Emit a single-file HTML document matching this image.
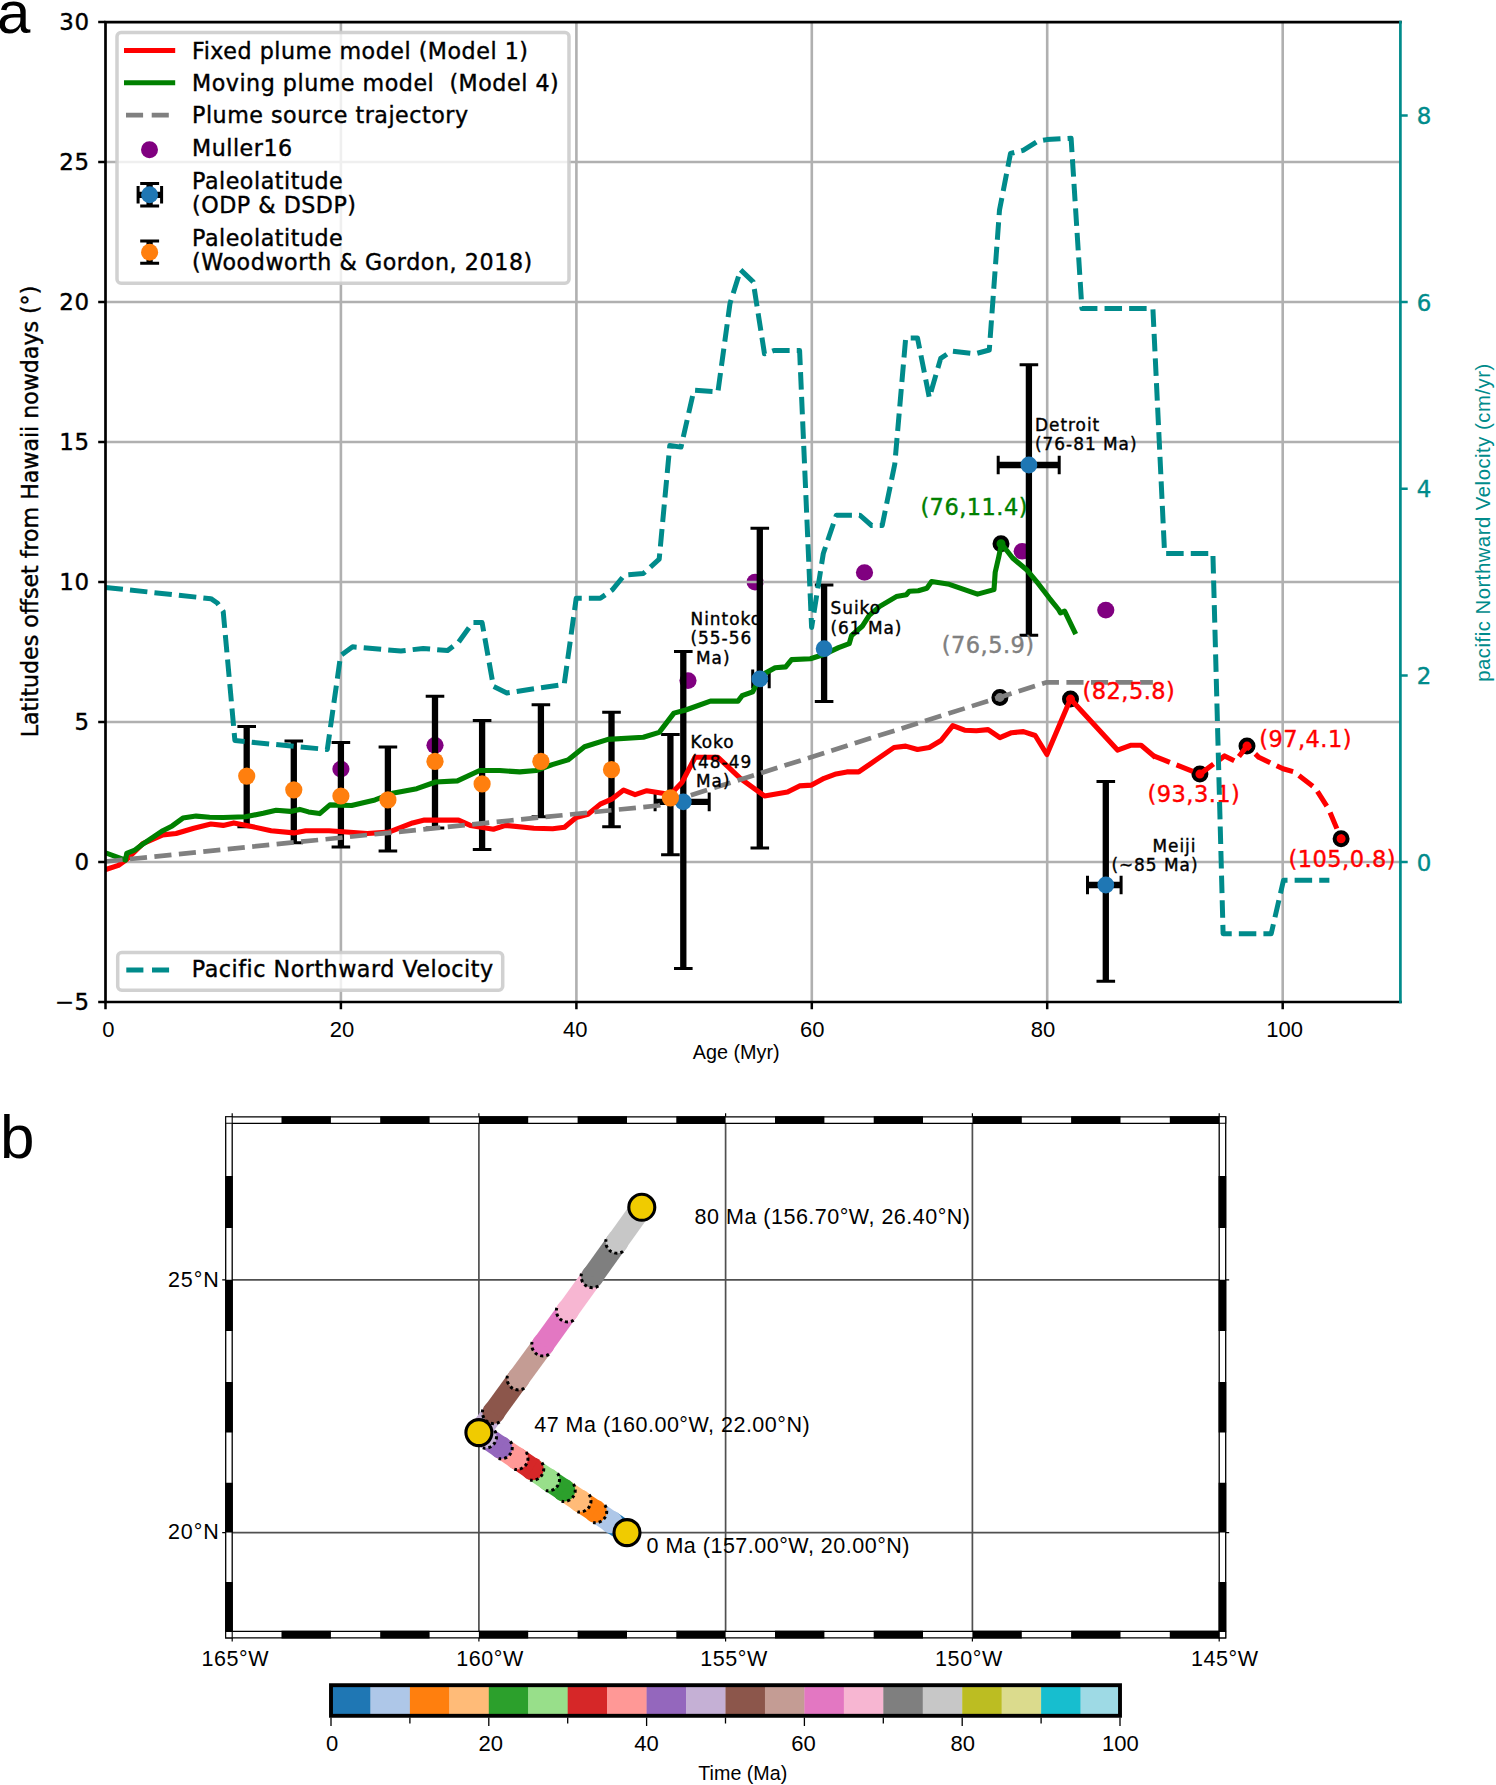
<!DOCTYPE html>
<html lang="en"><head><meta charset="utf-8"><title>Figure</title>
<style>html,body{margin:0;padding:0;background:#fff}svg{display:block}</style></head>
<body>
<svg width="1496" height="1785" viewBox="0 0 1496 1785">
<rect width="1496" height="1785" fill="#fff"/>
<ellipse cx="340.9" cy="769.1" rx="8.6" ry="8.3" fill="#800080"/>
<ellipse cx="435.0" cy="745.3" rx="8.6" ry="8.3" fill="#800080"/>
<ellipse cx="688.0" cy="680.6" rx="8.6" ry="8.3" fill="#800080"/>
<ellipse cx="755.1" cy="582.1" rx="8.6" ry="8.3" fill="#800080"/>
<ellipse cx="864.5" cy="572.5" rx="8.6" ry="8.3" fill="#800080"/>
<ellipse cx="1022.2" cy="551.3" rx="8.6" ry="8.3" fill="#800080"/>
<ellipse cx="1105.8" cy="610.1" rx="8.6" ry="8.3" fill="#800080"/>
<path d="M340.9 22.1V1002.0M576.4 22.1V1002.0M811.8 22.1V1002.0M1047.2 22.1V1002.0M1282.7 22.1V1002.0M105.5 862.0H1400.4M105.5 722.0H1400.4M105.5 582.0H1400.4M105.5 442.0H1400.4M105.5 302.0H1400.4M105.5 162.0H1400.4" stroke="#b0b0b0" stroke-width="2.6" fill="none"/>
<clipPath id="ca"><rect x="105.5" y="22.1" width="1294.9" height="980.0"/></clipPath>
<g clip-path="url(#ca)" fill="none" stroke-linejoin="round">
<circle cx="1001.0" cy="543.7" r="6.5" fill="#008000" stroke="#000" stroke-width="4"/>
<circle cx="999.9" cy="697.4" r="6.5" fill="#808080" stroke="#000" stroke-width="4"/>
<circle cx="1070.5" cy="699.1" r="6.5" fill="#f00" stroke="#000" stroke-width="4"/>
<circle cx="1199.9" cy="774.1" r="6.5" fill="#f00" stroke="#000" stroke-width="4"/>
<circle cx="1247.0" cy="746.1" r="6.5" fill="#f00" stroke="#000" stroke-width="4"/>
<circle cx="1341.1" cy="838.8" r="6.5" fill="#f00" stroke="#000" stroke-width="4"/>
<path d="M683.3 651.5V968.5M655.1 801.9H709.2M759.8 528.3V848.1M752.7 678.9H769.2M824.1 585.1V701.6M1028.9 364.8V635.3M998.2 465.0H1059.2M1105.8 781.4V981.3M1087.5 885.0H1121.1M246.7 726.5V826.8M293.8 741.1V842.7M340.9 742.5V846.9M387.9 747.0V850.9M435.0 696.3V827.9M482.1 720.4V849.5M540.9 704.7V816.7M611.5 712.3V826.8M670.4 734.4V854.8" stroke="#000" stroke-width="6.3"/>
<path d="M674.0 651.5h18.6M674.0 968.5h18.6M655.1 792.6v18.6M709.2 792.6v18.6M750.5 528.3h18.6M750.5 848.1h18.6M752.7 669.6v18.6M769.2 669.6v18.6M814.8 585.1h18.6M814.8 701.6h18.6M1019.6 364.8h18.6M1019.6 635.3h18.6M998.2 455.7v18.6M1059.2 455.7v18.6M1096.5 781.4h18.6M1096.5 981.3h18.6M1087.5 875.7v18.6M1121.1 875.7v18.6M237.4 726.5h18.6M237.4 826.8h18.6M284.5 741.1h18.6M284.5 842.7h18.6M331.6 742.5h18.6M331.6 846.9h18.6M378.6 747.0h18.6M378.6 850.9h18.6M425.7 696.3h18.6M425.7 827.9h18.6M472.8 720.4h18.6M472.8 849.5h18.6M531.6 704.7h18.6M531.6 816.7h18.6M602.2 712.3h18.6M602.2 826.8h18.6M661.1 734.4h18.6M661.1 854.8h18.6" stroke="#000" stroke-width="3.0"/>
<polyline points="105.5,869.6 118.4,865.4 126.7,859.5 142.8,843.6 162.8,834.9 176.1,833.5 193.8,828.2 210.9,824.0 223.2,825.4 233.8,822.9 246.7,825.4 271.1,830.7 293.8,832.9 305.6,830.7 329.1,830.7 367.3,833.5 388.8,832.1 412.6,822.9 424.4,820.1 458.5,820.1 470.3,825.4 493.4,829.3 505.6,825.4 533.9,828.2 552.7,828.7 564.5,827.3 576.2,817.5 588.0,814.2 600.3,804.1 612.3,798.8 623.6,790.1 635.1,794.6 646.8,790.7 670.4,794.6 681.9,782.5 695.1,757.3 718.0,757.3 740.6,778.6 764.5,796.0 787.5,792.1 799.5,785.9 811.6,785.1 824.1,778.3 836.1,773.9 846.9,771.9 858.7,771.9 870.4,763.8 894.0,747.5 905.7,746.1 917.5,749.5 929.3,747.5 941.0,740.5 952.8,725.7 964.6,730.2 976.3,730.7 988.1,729.6 999.9,737.7 1011.6,732.7 1023.4,731.6 1035.2,735.5 1046.9,754.5 1070.5,699.1 1117.5,750.1 1130.5,745.3 1141.1,745.3 1153.6,755.9" stroke="#f00" stroke-width="5.1" stroke-linecap="square"/>
<polyline points="1153.6,755.9 1199.9,774.1 1224.6,755.9 1235.2,761.3 1247.0,746.1 1258.8,757.3 1283.0,768.8 1294.1,771.9 1315.3,788.1 1328.8,809.4 1341.1,838.8" stroke="#f00" stroke-width="5.1" stroke-dasharray="17.5 7.1"/>
<polyline points="105.5,852.8 125.5,860.1 126.7,853.4 134.9,850.0 142.8,844.1 162.8,830.7 172.2,825.9 182.9,818.1 196.1,816.1 209.6,817.3 223.2,817.5 245.5,816.7 263.2,813.3 276.1,810.3 290.3,811.4 299.7,809.4 308.5,811.9 319.7,813.6 329.9,804.9 351.5,805.5 375.0,799.9 393.8,792.9 416.8,788.7 435.6,782.0 457.4,780.9 479.7,770.5 499.7,770.5 519.7,771.9 536.2,770.5 552.2,764.6 568.0,759.9 584.5,746.7 608.0,739.4 643.3,737.2 659.2,732.4 673.9,713.1 685.7,710.0 710.4,701.1 738.0,701.1 742.1,695.7 752.7,691.8 761.0,675.6 775.1,667.7 785.7,666.9 791.6,659.6 810.4,658.8 824.5,654.3 838.6,647.6 849.2,643.7 851.6,635.5 862.2,626.3 869.2,615.4 879.8,606.4 896.3,596.6 906.3,594.7 909.3,591.3 918.3,590.7 926.9,588.2 931.6,581.5 949.3,584.3 977.5,594.1 994.0,589.6 995.2,572.3 998.7,557.1 1001.5,543.7 1012.6,558.0 1027.2,570.3 1038.3,583.7 1049.5,598.3 1058.5,609.5 1060.5,612.9 1064.6,611.2 1074.6,631.9" stroke="#008000" stroke-width="5.1" stroke-linecap="square"/>
<polyline points="105.5,861.5 658.6,805.5 1046.9,682.3 1152.9,682.3" stroke="#808080" stroke-width="4.7" stroke-dasharray="17.14 7.43"/>
<circle cx="683.3" cy="801.9" r="8.4" fill="#1f77b4"/>
<circle cx="759.8" cy="678.9" r="8.4" fill="#1f77b4"/>
<circle cx="824.1" cy="648.7" r="8.4" fill="#1f77b4"/>
<circle cx="1028.9" cy="465.0" r="8.4" fill="#1f77b4"/>
<circle cx="1105.8" cy="885.0" r="8.4" fill="#1f77b4"/>
<circle cx="246.7" cy="776.1" r="8.6" fill="#ff7f0e"/>
<circle cx="293.8" cy="789.8" r="8.6" fill="#ff7f0e"/>
<circle cx="340.9" cy="796.0" r="8.6" fill="#ff7f0e"/>
<circle cx="387.9" cy="799.9" r="8.6" fill="#ff7f0e"/>
<circle cx="435.0" cy="761.3" r="8.6" fill="#ff7f0e"/>
<circle cx="482.1" cy="783.9" r="8.6" fill="#ff7f0e"/>
<circle cx="540.9" cy="761.3" r="8.6" fill="#ff7f0e"/>
<circle cx="611.5" cy="769.7" r="8.6" fill="#ff7f0e"/>
<circle cx="670.4" cy="797.9" r="8.6" fill="#ff7f0e"/>
</g>
<text x="690.5" y="624.5" style="font-family:'DejaVu Sans',sans-serif;font-size:16.90px;letter-spacing:1.00px" fill="#000" text-anchor="start" stroke="#000" stroke-width="0.4">Nintoko</text>
<text x="690.5" y="644.2" style="font-family:'DejaVu Sans',sans-serif;font-size:16.90px;letter-spacing:1.00px" fill="#000" text-anchor="start" stroke="#000" stroke-width="0.4">(55-56</text>
<text x="689.6" y="663.8" style="font-family:'DejaVu Sans',sans-serif;font-size:16.90px;letter-spacing:1.00px" fill="#000" text-anchor="start" stroke="#000" stroke-width="0.4">&#160;Ma)</text>
<text x="690.5" y="748.0" style="font-family:'DejaVu Sans',sans-serif;font-size:16.90px;letter-spacing:1.00px" fill="#000" text-anchor="start" stroke="#000" stroke-width="0.4">Koko</text>
<text x="690.5" y="767.9" style="font-family:'DejaVu Sans',sans-serif;font-size:16.90px;letter-spacing:1.00px" fill="#000" text-anchor="start" stroke="#000" stroke-width="0.4">(48-49</text>
<text x="689.6" y="787.3" style="font-family:'DejaVu Sans',sans-serif;font-size:16.90px;letter-spacing:1.00px" fill="#000" text-anchor="start" stroke="#000" stroke-width="0.4">&#160;Ma)</text>
<text x="830.5" y="614.0" style="font-family:'DejaVu Sans',sans-serif;font-size:16.90px;letter-spacing:1.00px" fill="#000" text-anchor="start" stroke="#000" stroke-width="0.4">Suiko</text>
<text x="830.5" y="634.0" style="font-family:'DejaVu Sans',sans-serif;font-size:16.90px;letter-spacing:1.00px" fill="#000" text-anchor="start" stroke="#000" stroke-width="0.4">(61 Ma)</text>
<text x="1035.0" y="431.0" style="font-family:'DejaVu Sans',sans-serif;font-size:16.90px;letter-spacing:1.00px" fill="#000" text-anchor="start" stroke="#000" stroke-width="0.4">Detroit</text>
<text x="1035.0" y="450.3" style="font-family:'DejaVu Sans',sans-serif;font-size:16.90px;letter-spacing:1.00px" fill="#000" text-anchor="start" stroke="#000" stroke-width="0.4">(76-81 Ma)</text>
<text x="1196.5" y="851.6" style="font-family:'DejaVu Sans',sans-serif;font-size:16.90px;letter-spacing:1.00px" fill="#000" text-anchor="end" stroke="#000" stroke-width="0.4">Meiji</text>
<text x="1198.5" y="870.9" style="font-family:'DejaVu Sans',sans-serif;font-size:16.90px;letter-spacing:1.00px" fill="#000" text-anchor="end" stroke="#000" stroke-width="0.4">(~85 Ma)</text>
<text x="920.4" y="515.2" style="font-family:'DejaVu Sans',sans-serif;font-size:22.50px;letter-spacing:0.45px" fill="#008000" text-anchor="start" stroke="#008000" stroke-width="0.4">(76,11.4)</text>
<text x="941.8" y="653.4" style="font-family:'DejaVu Sans',sans-serif;font-size:22.50px;letter-spacing:0.45px" fill="#808080" text-anchor="start" stroke="#808080" stroke-width="0.4">(76,5.9)</text>
<text x="1082.6" y="699.0" style="font-family:'DejaVu Sans',sans-serif;font-size:22.50px;letter-spacing:0.45px" fill="#f00" text-anchor="start" stroke="#f00" stroke-width="0.4">(82,5.8)</text>
<text x="1259.2" y="746.5" style="font-family:'DejaVu Sans',sans-serif;font-size:22.50px;letter-spacing:0.45px" fill="#f00" text-anchor="start" stroke="#f00" stroke-width="0.4">(97,4.1)</text>
<text x="1147.6" y="802.0" style="font-family:'DejaVu Sans',sans-serif;font-size:22.50px;letter-spacing:0.45px" fill="#f00" text-anchor="start" stroke="#f00" stroke-width="0.4">(93,3.1)</text>
<text x="1288.6" y="866.8" style="font-family:'DejaVu Sans',sans-serif;font-size:22.50px;letter-spacing:0.45px" fill="#f00" text-anchor="start" stroke="#f00" stroke-width="0.4">(105,0.8)</text>
<polyline clip-path="url(#ca)" points="105.5,587.4 210.9,598.7 217.3,603.0 223.2,611.4 234.9,740.6 327.3,749.5 340.6,655.6 352.6,646.8 400.9,651.0 423.2,648.4 447.6,650.6 458.5,642.2 472.7,622.6 482.1,622.6 493.4,686.4 506.8,693.0 533.9,688.8 564.2,684.4 576.2,598.3 600.3,598.3 612.3,589.9 624.5,575.0 643.3,573.5 659.2,559.1 669.8,445.5 681.0,447.1 693.9,390.2 717.9,392.0 730.0,303.4 740.6,269.8 753.2,281.9 764.5,353.8 773.9,350.5 799.6,350.5 811.6,627.5 823.3,553.5 836.3,515.2 859.8,515.2 871.6,525.5 882.2,525.5 894.8,463.9 905.7,337.9 917.5,337.9 929.3,397.6 940.7,358.4 951.6,351.0 975.2,353.8 989.3,350.0 999.5,210.0 1010.5,153.5 1023.1,150.3 1037.5,141.3 1046.9,139.6 1071.1,138.2 1081.9,308.5 1152.9,308.5 1164.6,553.5 1212.9,553.5 1223.1,933.7 1271.2,933.7 1283.5,880.2 1329.4,880.2" fill="none" stroke-linejoin="round" stroke="#008b8b" stroke-width="5.0" stroke-dasharray="17.5 7.1"/>
<path d="M105.5 22.1H1400.4M105.5 1002.0H1400.4M105.5 22.1V1002.0" stroke="#000" stroke-width="2.7" fill="none" stroke-linecap="square"/>
<path d="M1400.4 22.1V1002.0" stroke="#008b8b" stroke-width="2.7" fill="none" stroke-linecap="square"/>
<path d="M105.5 1002.0v7.3M340.9 1002.0v7.3M576.4 1002.0v7.3M811.8 1002.0v7.3M1047.2 1002.0v7.3M1282.7 1002.0v7.3M105.5 1002.0h-7.3M105.5 862.0h-7.3M105.5 722.0h-7.3M105.5 582.0h-7.3M105.5 442.0h-7.3M105.5 302.0h-7.3M105.5 162.0h-7.3M105.5 22.0h-7.3" stroke="#000" stroke-width="2.5" fill="none"/>
<path d="M1400.4 862.0h7.3M1400.4 675.4h7.3M1400.4 488.7h7.3M1400.4 302.0h7.3M1400.4 115.4h7.3" stroke="#008b8b" stroke-width="2.5" fill="none"/>
<text x="89.5" y="1010.3" style="font-family:'DejaVu Sans',sans-serif;font-size:22.90px;letter-spacing:0.50px" fill="#000" text-anchor="end" stroke="#000" stroke-width="0.4">&#8722;5</text>
<text x="89.5" y="870.3" style="font-family:'DejaVu Sans',sans-serif;font-size:22.90px;letter-spacing:0.50px" fill="#000" text-anchor="end" stroke="#000" stroke-width="0.4">0</text>
<text x="89.5" y="730.3" style="font-family:'DejaVu Sans',sans-serif;font-size:22.90px;letter-spacing:0.50px" fill="#000" text-anchor="end" stroke="#000" stroke-width="0.4">5</text>
<text x="89.5" y="590.3" style="font-family:'DejaVu Sans',sans-serif;font-size:22.90px;letter-spacing:0.50px" fill="#000" text-anchor="end" stroke="#000" stroke-width="0.4">10</text>
<text x="89.5" y="450.3" style="font-family:'DejaVu Sans',sans-serif;font-size:22.90px;letter-spacing:0.50px" fill="#000" text-anchor="end" stroke="#000" stroke-width="0.4">15</text>
<text x="89.5" y="310.3" style="font-family:'DejaVu Sans',sans-serif;font-size:22.90px;letter-spacing:0.50px" fill="#000" text-anchor="end" stroke="#000" stroke-width="0.4">20</text>
<text x="89.5" y="170.3" style="font-family:'DejaVu Sans',sans-serif;font-size:22.90px;letter-spacing:0.50px" fill="#000" text-anchor="end" stroke="#000" stroke-width="0.4">25</text>
<text x="89.5" y="30.3" style="font-family:'DejaVu Sans',sans-serif;font-size:22.90px;letter-spacing:0.50px" fill="#000" text-anchor="end" stroke="#000" stroke-width="0.4">30</text>
<text x="1416.7" y="870.6" style="font-family:'DejaVu Sans',sans-serif;font-size:22.90px;letter-spacing:0.50px" fill="#008b8b" text-anchor="start" stroke="#008b8b" stroke-width="0.4">0</text>
<text x="1416.7" y="684.0" style="font-family:'DejaVu Sans',sans-serif;font-size:22.90px;letter-spacing:0.50px" fill="#008b8b" text-anchor="start" stroke="#008b8b" stroke-width="0.4">2</text>
<text x="1416.7" y="497.3" style="font-family:'DejaVu Sans',sans-serif;font-size:22.90px;letter-spacing:0.50px" fill="#008b8b" text-anchor="start" stroke="#008b8b" stroke-width="0.4">4</text>
<text x="1416.7" y="310.6" style="font-family:'DejaVu Sans',sans-serif;font-size:22.90px;letter-spacing:0.50px" fill="#008b8b" text-anchor="start" stroke="#008b8b" stroke-width="0.4">6</text>
<text x="1416.7" y="124.0" style="font-family:'DejaVu Sans',sans-serif;font-size:22.90px;letter-spacing:0.50px" fill="#008b8b" text-anchor="start" stroke="#008b8b" stroke-width="0.4">8</text>
<text x="108.3" y="1037.4" style="font-family:'Liberation Sans',sans-serif;font-size:22.00px" fill="#000" text-anchor="middle">0</text>
<text x="342.1" y="1037.4" style="font-family:'Liberation Sans',sans-serif;font-size:22.00px" fill="#000" text-anchor="middle">20</text>
<text x="575.2" y="1037.4" style="font-family:'Liberation Sans',sans-serif;font-size:22.00px" fill="#000" text-anchor="middle">40</text>
<text x="812.2" y="1037.4" style="font-family:'Liberation Sans',sans-serif;font-size:22.00px" fill="#000" text-anchor="middle">60</text>
<text x="1043.0" y="1037.4" style="font-family:'Liberation Sans',sans-serif;font-size:22.00px" fill="#000" text-anchor="middle">80</text>
<text x="1284.6" y="1037.4" style="font-family:'Liberation Sans',sans-serif;font-size:22.00px" fill="#000" text-anchor="middle">100</text>
<text x="736.2" y="1058.6" style="font-family:'Liberation Sans',sans-serif;font-size:19.80px" fill="#000" text-anchor="middle">Age (Myr)</text>
<text transform="translate(37.5 511.5) rotate(-90)" style="font-family:'DejaVu Sans',sans-serif;font-size:22.1px" stroke="#000" stroke-width="0.4" text-anchor="middle">Latitudes offset from Hawaii nowdays (°)</text>
<text transform="translate(1490.3 522.5) rotate(-90)" style="font-family:'Liberation Sans',sans-serif;font-size:20.3px;letter-spacing:0.52px" fill="#008b8b" text-anchor="middle">pacific Northward Velocity (cm/yr)</text>
<rect x="117" y="32.6" width="452" height="250.6" rx="4" fill="#fff" fill-opacity="0.8" stroke="#ccc" stroke-opacity="0.9" stroke-width="3.5"/>
<path d="M124 50.5H175.2" stroke="#f00" stroke-width="5.1"/>
<path d="M124 82.8H175.2" stroke="#008000" stroke-width="5.1"/>
<path d="M126 115.2H168.8" stroke="#808080" stroke-width="4.7" stroke-dasharray="17.1 8.6"/>
<circle cx="149.5" cy="149.7" r="8.5" fill="#800080"/>
<path d="M138.1 194.8H161.6M149.6 183.6V206.0" stroke="#000" stroke-width="6.3"/>
<path d="M138.1 186v17.6M161.6 186v17.6M140.2 183.6h18.9M140.2 206.0h18.9" stroke="#000" stroke-width="3.0"/>
<circle cx="149.6" cy="194.8" r="8.5" fill="#1f77b4"/>
<path d="M149.6 241.1V263.2" stroke="#000" stroke-width="6.3"/>
<path d="M140.2 241.1h18.9M140.2 263.2h18.9" stroke="#000" stroke-width="3.0"/>
<circle cx="149.6" cy="252.2" r="8.5" fill="#ff7f0e"/>
<text x="192.0" y="58.6" style="font-family:'DejaVu Sans',sans-serif;font-size:22.20px;letter-spacing:0.52px" fill="#000" text-anchor="start" stroke="#000" stroke-width="0.4">Fixed plume model (Model 1)</text>
<text x="192.0" y="91.1" style="font-family:'DejaVu Sans',sans-serif;font-size:22.20px;letter-spacing:0.52px" fill="#000" text-anchor="start" stroke="#000" stroke-width="0.4">Moving plume model&#160; (Model 4)</text>
<text x="192.0" y="123.2" style="font-family:'DejaVu Sans',sans-serif;font-size:22.20px;letter-spacing:0.52px" fill="#000" text-anchor="start" stroke="#000" stroke-width="0.4">Plume source trajectory</text>
<text x="192.0" y="155.9" style="font-family:'DejaVu Sans',sans-serif;font-size:22.20px;letter-spacing:0.52px" fill="#000" text-anchor="start" stroke="#000" stroke-width="0.4">Muller16</text>
<text x="192.0" y="188.5" style="font-family:'DejaVu Sans',sans-serif;font-size:22.20px;letter-spacing:0.52px" fill="#000" text-anchor="start" stroke="#000" stroke-width="0.4">Paleolatitude</text>
<text x="192.0" y="212.6" style="font-family:'DejaVu Sans',sans-serif;font-size:22.20px;letter-spacing:0.52px" fill="#000" text-anchor="start" stroke="#000" stroke-width="0.4">(ODP &amp; DSDP)</text>
<text x="192.0" y="245.5" style="font-family:'DejaVu Sans',sans-serif;font-size:22.20px;letter-spacing:0.52px" fill="#000" text-anchor="start" stroke="#000" stroke-width="0.4">Paleolatitude</text>
<text x="192.0" y="270.0" style="font-family:'DejaVu Sans',sans-serif;font-size:22.20px;letter-spacing:0.57px" fill="#000" text-anchor="start" stroke="#000" stroke-width="0.4">(Woodworth &amp; Gordon, 2018)</text>
<rect x="117.7" y="952.5" width="385" height="37.8" rx="4" fill="#fff" fill-opacity="0.8" stroke="#ccc" stroke-opacity="0.9" stroke-width="3.5"/>
<path d="M126.3 970H169.1" stroke="#008b8b" stroke-width="5" stroke-dasharray="17.1 8.6"/>
<text x="191.8" y="977.3" style="font-family:'DejaVu Sans',sans-serif;font-size:22.20px;letter-spacing:0.52px" fill="#000" text-anchor="start" stroke="#000" stroke-width="0.4">Pacific Northward Velocity</text>
<text x="-3.0" y="32.8" style="font-family:'Liberation Sans',sans-serif;font-size:60.00px" fill="#000" text-anchor="start">a</text>
<text x="0.0" y="1158.0" style="font-family:'Liberation Sans',sans-serif;font-size:62.00px" fill="#000" text-anchor="start">b</text>
<path d="M478.9 1123.3V1631.4M725.6 1123.3V1631.4M972.4 1123.3V1631.4M232.2 1532.6H1219.2M232.2 1279.8H1219.2" stroke="#505050" stroke-width="1.7" fill="none"/>
<circle cx="627.0" cy="1532.6" r="11.3" fill="#1f77b4"/>
<path d="M627.0 1532.6L611.2 1522.0" stroke="#1f77b4" stroke-width="22.0" fill="none"/>
<circle cx="611.2" cy="1522.0" r="11.3" fill="#aec7e8"/>
<path d="M611.2 1522.0L595.5 1511.4" stroke="#aec7e8" stroke-width="22.0" fill="none"/>
<circle cx="595.5" cy="1511.4" r="11.3" fill="#ff7f0e"/>
<path d="M604.81 1505.10A11.3 11.3 0 0 1 593.12 1522.48" fill="none" stroke="#000" stroke-width="3" stroke-dasharray="0 0.1 3 2.92 3 2.92 3 2.92 3 2.92 3 9"/>
<path d="M595.5 1511.4L579.7 1500.8" stroke="#ff7f0e" stroke-width="22.0" fill="none"/>
<circle cx="579.7" cy="1500.8" r="11.3" fill="#ffbb78"/>
<path d="M589.06 1494.49A11.3 11.3 0 0 1 577.36 1511.87" fill="none" stroke="#000" stroke-width="3" stroke-dasharray="0 0.1 3 2.92 3 2.92 3 2.92 3 2.92 3 9"/>
<path d="M579.7 1500.8L563.9 1490.2" stroke="#ffbb78" stroke-width="22.0" fill="none"/>
<circle cx="563.9" cy="1490.2" r="11.3" fill="#2ca02c"/>
<path d="M573.32 1483.88A11.3 11.3 0 0 1 561.60 1501.25" fill="none" stroke="#000" stroke-width="3" stroke-dasharray="0 0.1 3 2.92 3 2.92 3 2.92 3 2.92 3 9"/>
<path d="M563.9 1490.2L548.2 1479.6" stroke="#2ca02c" stroke-width="22.0" fill="none"/>
<circle cx="548.2" cy="1479.6" r="11.3" fill="#98df8a"/>
<path d="M557.57 1473.25A11.3 11.3 0 0 1 545.84 1490.61" fill="none" stroke="#000" stroke-width="3" stroke-dasharray="0 0.1 3 2.92 3 2.92 3 2.92 3 2.92 3 9"/>
<path d="M548.2 1479.6L532.4 1468.9" stroke="#98df8a" stroke-width="22.0" fill="none"/>
<circle cx="532.4" cy="1468.9" r="11.3" fill="#d62728"/>
<path d="M541.83 1462.60A11.3 11.3 0 0 1 530.09 1479.96" fill="none" stroke="#000" stroke-width="3" stroke-dasharray="0 0.1 3 2.92 3 2.92 3 2.92 3 2.92 3 9"/>
<path d="M532.4 1468.9L516.7 1458.2" stroke="#d62728" stroke-width="22.0" fill="none"/>
<circle cx="516.7" cy="1458.2" r="11.3" fill="#ff9896"/>
<path d="M526.08 1451.94A11.3 11.3 0 0 1 514.33 1469.29" fill="none" stroke="#000" stroke-width="3" stroke-dasharray="0 0.1 3 2.92 3 2.92 3 2.92 3 2.92 3 9"/>
<path d="M516.7 1458.2L501.0 1447.6" stroke="#ff9896" stroke-width="22.0" fill="none"/>
<circle cx="501.0" cy="1447.6" r="11.3" fill="#9467bd"/>
<path d="M510.33 1441.26A11.3 11.3 0 0 1 498.57 1458.60" fill="none" stroke="#000" stroke-width="3" stroke-dasharray="0 0.1 3 2.92 3 2.92 3 2.92 3 2.92 3 9"/>
<path d="M501.0 1447.6L485.2 1436.9" stroke="#9467bd" stroke-width="22.0" fill="none"/>
<circle cx="485.2" cy="1436.9" r="11.3" fill="#c5b0d5"/>
<path d="M494.59 1430.57A11.3 11.3 0 0 1 482.81 1447.90" fill="none" stroke="#000" stroke-width="3" stroke-dasharray="0 0.1 3 2.92 3 2.92 3 2.92 3 2.92 3 9"/>
<path d="M485.2 1436.9L478.9 1432.6" stroke="#c5b0d5" stroke-width="22.0" fill="none"/>
<circle cx="478.9" cy="1432.6" r="11.3" fill="#c5b0d5"/>
<path d="M488.29 1426.29A11.3 11.3 0 0 1 476.51 1443.61" fill="none" stroke="#000" stroke-width="3" stroke-dasharray="0 0.1 3 2.92 3 2.92 3 2.92 3 2.92 3 9"/>
<path d="M478.9 1432.6L493.7 1412.4" stroke="#c5b0d5" stroke-width="22.0" fill="none"/>
<circle cx="493.7" cy="1412.4" r="11.3" fill="#8c564b"/>
<path d="M499.65 1422.01A11.3 11.3 0 0 1 482.75 1409.61" fill="none" stroke="#000" stroke-width="3" stroke-dasharray="0 0.1 3 2.92 3 2.92 3 2.92 3 2.92 3 9"/>
<path d="M493.7 1412.4L518.4 1378.6" stroke="#8c564b" stroke-width="22.0" fill="none"/>
<circle cx="518.4" cy="1378.6" r="11.3" fill="#c49c94"/>
<path d="M524.34 1388.25A11.3 11.3 0 0 1 507.42 1375.88" fill="none" stroke="#000" stroke-width="3" stroke-dasharray="0 0.1 3 2.92 3 2.92 3 2.92 3 2.92 3 9"/>
<path d="M518.4 1378.6L543.1 1344.7" stroke="#c49c94" stroke-width="22.0" fill="none"/>
<circle cx="543.1" cy="1344.7" r="11.3" fill="#e377c2"/>
<path d="M549.04 1354.32A11.3 11.3 0 0 1 532.09 1341.99" fill="none" stroke="#000" stroke-width="3" stroke-dasharray="0 0.1 3 2.92 3 2.92 3 2.92 3 2.92 3 9"/>
<path d="M543.1 1344.7L567.7 1310.6" stroke="#e377c2" stroke-width="22.0" fill="none"/>
<circle cx="567.7" cy="1310.6" r="11.3" fill="#f7b6d2"/>
<path d="M573.74 1320.22A11.3 11.3 0 0 1 556.76 1307.93" fill="none" stroke="#000" stroke-width="3" stroke-dasharray="0 0.1 3 2.92 3 2.92 3 2.92 3 2.92 3 9"/>
<path d="M567.7 1310.6L592.4 1276.4" stroke="#f7b6d2" stroke-width="22.0" fill="none"/>
<circle cx="592.4" cy="1276.4" r="11.3" fill="#7f7f7f"/>
<path d="M598.43 1285.93A11.3 11.3 0 0 1 581.43 1273.69" fill="none" stroke="#000" stroke-width="3" stroke-dasharray="0 0.1 3 2.92 3 2.92 3 2.92 3 2.92 3 9"/>
<path d="M592.4 1276.4L617.1 1241.9" stroke="#7f7f7f" stroke-width="22.0" fill="none"/>
<circle cx="617.1" cy="1241.9" r="11.3" fill="#c7c7c7"/>
<path d="M623.13 1251.46A11.3 11.3 0 0 1 606.10 1239.26" fill="none" stroke="#000" stroke-width="3" stroke-dasharray="0 0.1 3 2.92 3 2.92 3 2.92 3 2.92 3 9"/>
<path d="M617.1 1241.9L641.8 1207.3" stroke="#c7c7c7" stroke-width="22.0" fill="none"/>
<circle cx="641.8" cy="1207.3" r="11.3" fill="#bcbd22"/>
<path d="M647.83 1216.79A11.3 11.3 0 0 1 630.77 1204.63" fill="none" stroke="#000" stroke-width="3" stroke-dasharray="0 0.1 3 2.92 3 2.92 3 2.92 3 2.92 3 9"/>
<circle cx="627.0" cy="1532.6" r="13" fill="#f0cb00" stroke="#000" stroke-width="3.1"/>
<circle cx="478.9" cy="1432.6" r="13" fill="#f0cb00" stroke="#000" stroke-width="3.1"/>
<circle cx="641.8" cy="1207.3" r="13" fill="#f0cb00" stroke="#000" stroke-width="3.1"/>
<text x="694.6" y="1224.1" style="font-family:'Liberation Sans',sans-serif;font-size:21.50px;letter-spacing:0.50px" fill="#000" text-anchor="start">80 Ma (156.70°W, 26.40°N)</text>
<text x="534.2" y="1432.3" style="font-family:'Liberation Sans',sans-serif;font-size:21.50px;letter-spacing:0.50px" fill="#000" text-anchor="start">47 Ma (160.00°W, 22.00°N)</text>
<text x="646.5" y="1552.9" style="font-family:'Liberation Sans',sans-serif;font-size:21.50px;letter-spacing:0.50px" fill="#000" text-anchor="start">0 Ma (157.00°W, 20.00°N)</text>
<path d="M225.7 1116.8H1225.7V1637.9H225.7ZM232.2 1123.3H1219.2V1631.4H232.2Z" fill="#fff" fill-rule="evenodd" stroke="#000" stroke-width="1.3"/>
<path d="M225.7 1116.8h6.5v6.5h-6.5zM225.7 1631.4h6.5v6.5h-6.5zM1219.2 1116.8h6.5v6.5h-6.5zM1219.2 1631.4h6.5v6.5h-6.5z" fill="#fff" stroke="#000" stroke-width="1.1"/>
<path d="M281.5 1116.2H330.9V1123.9H281.5ZM281.5 1630.8H330.9V1638.5H281.5ZM380.2 1116.2H429.6V1123.9H380.2ZM380.2 1630.8H429.6V1638.5H380.2ZM478.9 1116.2H528.2V1123.9H478.9ZM478.9 1630.8H528.2V1638.5H478.9ZM577.6 1116.2H627.0V1123.9H577.6ZM577.6 1630.8H627.0V1638.5H577.6ZM676.3 1116.2H725.6V1123.9H676.3ZM676.3 1630.8H725.6V1638.5H676.3ZM775.0 1116.2H824.4V1123.9H775.0ZM775.0 1630.8H824.4V1638.5H775.0ZM873.7 1116.2H923.0V1123.9H873.7ZM873.7 1630.8H923.0V1638.5H873.7ZM972.4 1116.2H1021.8V1123.9H972.4ZM972.4 1630.8H1021.8V1638.5H972.4ZM1071.1 1116.2H1120.5V1123.9H1071.1ZM1071.1 1630.8H1120.5V1638.5H1071.1ZM1169.8 1116.2H1219.2V1123.9H1169.8ZM1169.8 1630.8H1219.2V1638.5H1169.8ZM225.1 1582.1H232.8V1631.4H225.1ZM1218.6 1582.1H1226.2V1631.4H1218.6ZM225.1 1482.8H232.8V1532.6H225.1ZM1218.6 1482.8H1226.2V1532.6H1218.6ZM225.1 1382.0H232.8V1432.6H225.1ZM1218.6 1382.0H1226.2V1432.6H1218.6ZM225.1 1279.8H232.8V1331.1H225.1ZM1218.6 1279.8H1226.2V1331.1H1218.6ZM225.1 1175.9H232.8V1228.1H225.1ZM1218.6 1175.9H1226.2V1228.1H1218.6Z" fill="#000"/>
<path d="M232.2 1116.8v-3.5M232.2 1637.9v3.5M478.9 1116.8v-3.5M478.9 1637.9v3.5M725.6 1116.8v-3.5M725.6 1637.9v3.5M972.4 1116.8v-3.5M972.4 1637.9v3.5M1219.2 1116.8v-3.5M1219.2 1637.9v3.5M225.7 1532.6h-3.5M1225.7 1532.6h3.5M225.7 1279.8h-3.5M1225.7 1279.8h3.5" stroke="#000" stroke-width="1.2" fill="none"/>
<text x="235.3" y="1666.0" style="font-family:'Liberation Sans',sans-serif;font-size:21.50px;letter-spacing:0.60px" fill="#000" text-anchor="middle">165°W</text>
<text x="490.1" y="1666.0" style="font-family:'Liberation Sans',sans-serif;font-size:21.50px;letter-spacing:0.60px" fill="#000" text-anchor="middle">160°W</text>
<text x="734.1" y="1666.0" style="font-family:'Liberation Sans',sans-serif;font-size:21.50px;letter-spacing:0.60px" fill="#000" text-anchor="middle">155°W</text>
<text x="968.9" y="1666.0" style="font-family:'Liberation Sans',sans-serif;font-size:21.50px;letter-spacing:0.60px" fill="#000" text-anchor="middle">150°W</text>
<text x="1224.8" y="1666.0" style="font-family:'Liberation Sans',sans-serif;font-size:21.50px;letter-spacing:0.60px" fill="#000" text-anchor="middle">145°W</text>
<text x="219.6" y="1286.5" style="font-family:'Liberation Sans',sans-serif;font-size:21.50px;letter-spacing:0.90px" fill="#000" text-anchor="end">25°N</text>
<text x="219.6" y="1539.4" style="font-family:'Liberation Sans',sans-serif;font-size:21.50px;letter-spacing:0.90px" fill="#000" text-anchor="end">20°N</text>
<rect x="331.00" y="1686" width="39.75" height="30" fill="#1f77b4"/>
<rect x="370.45" y="1686" width="39.75" height="30" fill="#aec7e8"/>
<rect x="409.90" y="1686" width="39.75" height="30" fill="#ff7f0e"/>
<rect x="449.35" y="1686" width="39.75" height="30" fill="#ffbb78"/>
<rect x="488.80" y="1686" width="39.75" height="30" fill="#2ca02c"/>
<rect x="528.25" y="1686" width="39.75" height="30" fill="#98df8a"/>
<rect x="567.70" y="1686" width="39.75" height="30" fill="#d62728"/>
<rect x="607.15" y="1686" width="39.75" height="30" fill="#ff9896"/>
<rect x="646.60" y="1686" width="39.75" height="30" fill="#9467bd"/>
<rect x="686.05" y="1686" width="39.75" height="30" fill="#c5b0d5"/>
<rect x="725.50" y="1686" width="39.75" height="30" fill="#8c564b"/>
<rect x="764.95" y="1686" width="39.75" height="30" fill="#c49c94"/>
<rect x="804.40" y="1686" width="39.75" height="30" fill="#e377c2"/>
<rect x="843.85" y="1686" width="39.75" height="30" fill="#f7b6d2"/>
<rect x="883.30" y="1686" width="39.75" height="30" fill="#7f7f7f"/>
<rect x="922.75" y="1686" width="39.75" height="30" fill="#c7c7c7"/>
<rect x="962.20" y="1686" width="39.75" height="30" fill="#bcbd22"/>
<rect x="1001.65" y="1686" width="39.75" height="30" fill="#dbdb8d"/>
<rect x="1041.10" y="1686" width="39.75" height="30" fill="#17becf"/>
<rect x="1080.55" y="1686" width="39.75" height="30" fill="#9edae5"/>
<rect x="331.0" y="1685.2" width="789.0" height="30.6" fill="none" stroke="#000" stroke-width="3.9"/>
<path d="M331.0 1717.4v8.5M409.9 1717.4v6.0M488.8 1717.4v8.5M567.7 1717.4v6.0M646.6 1717.4v8.5M725.5 1717.4v6.0M804.4 1717.4v8.5M883.3 1717.4v6.0M962.2 1717.4v8.5M1041.1 1717.4v6.0M1120.0 1717.4v8.5" stroke="#000" stroke-width="1.3" fill="none"/>
<text x="332.1" y="1751.0" style="font-family:'Liberation Sans',sans-serif;font-size:22.00px" fill="#000" text-anchor="middle">0</text>
<text x="490.8" y="1751.0" style="font-family:'Liberation Sans',sans-serif;font-size:22.00px" fill="#000" text-anchor="middle">20</text>
<text x="646.4" y="1751.0" style="font-family:'Liberation Sans',sans-serif;font-size:22.00px" fill="#000" text-anchor="middle">40</text>
<text x="803.6" y="1751.0" style="font-family:'Liberation Sans',sans-serif;font-size:22.00px" fill="#000" text-anchor="middle">60</text>
<text x="962.8" y="1751.0" style="font-family:'Liberation Sans',sans-serif;font-size:22.00px" fill="#000" text-anchor="middle">80</text>
<text x="1120.3" y="1751.0" style="font-family:'Liberation Sans',sans-serif;font-size:22.00px" fill="#000" text-anchor="middle">100</text>
<text x="742.8" y="1779.7" style="font-family:'Liberation Sans',sans-serif;font-size:19.70px" fill="#000" text-anchor="middle">Time (Ma)</text>
</svg>
</body></html>
